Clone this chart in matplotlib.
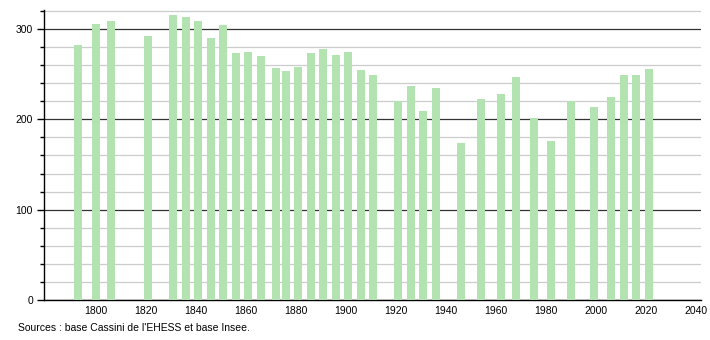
import matplotlib.pyplot as plt
from matplotlib.ticker import MultipleLocator

plt.rcParams["font.family"] = ["Liberation Sans", "DejaVu Sans"]

# Census years and population
years = [1793, 1800, 1806, 1821, 1831, 1836, 1841, 1846, 1851, 1856,
         1861, 1866, 1872, 1876, 1881, 1886, 1891, 1896, 1901, 1906,
         1911, 1921, 1926, 1931, 1936, 1946, 1954, 1962, 1968, 1975,
         1982, 1990, 1999, 2006, 2011, 2016, 2021]
population = [282, 306, 309, 292, 315, 313, 309, 290, 304, 273,
              275, 270, 257, 253, 258, 273, 278, 271, 274, 255,
              249, 220, 237, 209, 235, 174, 223, 228, 247, 202,
              176, 220, 214, 225, 249, 249, 256]
x_ticks = list(range(1800, 2041, 20))
source_text = "Sources : base Cassini de l'EHESS et base Insee."

fig = plt.figure(figsize=(7.1, 3.4), dpi=100)
ax = fig.add_axes([0.062, 0.1176, 0.925, 0.853])

ax.bar(years, population, width=3.2, color="#b2e3b0", zorder=3)

ax.set_xlim(1779.4, 2041.8)
ax.set_ylim(0, 321)
ax.set_xticks(x_ticks)
ax.yaxis.set_major_locator(MultipleLocator(100))
ax.yaxis.set_minor_locator(MultipleLocator(20))

ax.grid(axis="y", which="major", color="#333333", linewidth=0.9, zorder=1)
ax.grid(axis="y", which="minor", color="#cccccc", linewidth=0.9, zorder=0)

for side in ("top", "right"):
    ax.spines[side].set_visible(False)
ax.spines["left"].set_linewidth(1.0)
ax.spines["bottom"].set_linewidth(1.0)

ax.tick_params(axis="x", length=0, labelsize=7.5, pad=4)
ax.tick_params(axis="y", which="major", length=5, width=1, labelsize=7.5, pad=3)
ax.tick_params(axis="y", which="minor", length=3, width=1)

fig.text(18 / 710, 1 - 328 / 340, source_text, fontsize=7.5,
         ha="left", va="center")

fig.savefig("out.png", dpi=100, facecolor="white")
